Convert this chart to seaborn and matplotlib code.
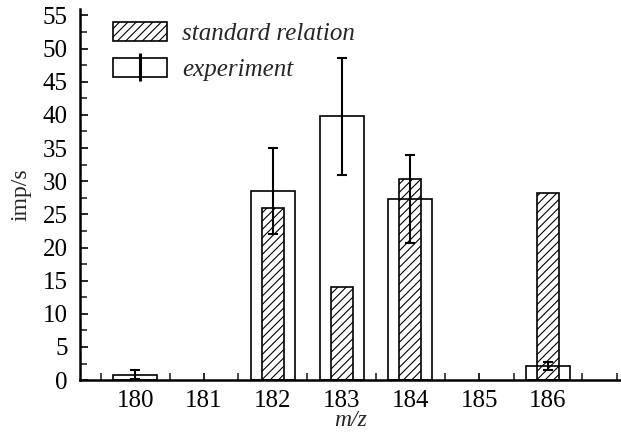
import numpy as np
import pandas as pd
import matplotlib
matplotlib.use("Agg")
import matplotlib.pyplot as plt
import seaborn as sns
from matplotlib.patches import Patch
from matplotlib.lines import Line2D
from matplotlib.legend_handler import HandlerTuple
from matplotlib.ticker import MultipleLocator

# data
mz = [180, 181, 182, 183, 184, 185, 186]
standard = [0, 0, 26.0, 14.0, 30.3, 0, 28.2]
experiment = [0.8, 0, 28.5, 39.8, 27.3, 0, 2.1]
exp_err = [0.7, 0, 6.5, 8.8, 6.6, 0, 0.6]

df = pd.DataFrame({"mz": mz, "standard": standard, "experiment": experiment, "err": exp_err})

sns.set_style("ticks")
plt.rcParams["font.family"] = ["Liberation Serif", "DejaVu Serif"]
plt.rcParams["hatch.linewidth"] = 0.8
plt.rcParams["hatch.color"] = "black"

fig = plt.figure(figsize=(6.21, 4.41), dpi=100)
ax = fig.add_axes([0.129, 0.138, 0.871, 0.842])

# hatched standard bars (zero bars dropped)
std = df[df["standard"] > 0]
sns.barplot(data=std, x="mz", y="standard", native_scale=True, width=0.32,
            color="white", edgecolor="black", linewidth=1.2, hatch="////",
            errorbar=None, ax=ax)

# open experiment bars on top
ex = df[df["experiment"] > 0]
sns.barplot(data=ex, x="mz", y="experiment", native_scale=True, width=0.64,
            color="black", fill=False, linewidth=1.2, errorbar=None, ax=ax)

ax.errorbar(ex["mz"], ex["experiment"], yerr=ex["err"], fmt="none",
            ecolor="black", elinewidth=1.5, capsize=3.8, capthick=1.5, zorder=5)

ax.set_xlim(179.2, 187.06)
ax.set_ylim(0, 56)
ax.set_xticks(mz)
ax.set_xticklabels([str(m) for m in mz])
ax.xaxis.set_minor_locator(MultipleLocator(0.5))
ax.yaxis.set_major_locator(MultipleLocator(5))
ax.yaxis.set_minor_locator(MultipleLocator(2.5))
ax.tick_params(axis="both", which="major", direction="in", length=6, width=1.2,
               labelsize=18, colors="black")
ax.tick_params(axis="both", which="minor", direction="in", length=5, width=1.2)
ax.tick_params(axis="x", which="major", length=5, pad=7)
ax.tick_params(axis="y", which="major", pad=9)
for s in ["top", "right"]:
    ax.spines[s].set_visible(False)
for s in ["left", "bottom"]:
    ax.spines[s].set_linewidth(1.8)
    ax.spines[s].set_color("black")

ax.set_xlabel("m/z", fontsize=17, style="italic", labelpad=-1)
ax.set_ylabel("imp/s", fontsize=17, labelpad=8)

h_std = Patch(facecolor="white", edgecolor="black", hatch="////", linewidth=1.2)
h_box = Patch(facecolor="white", edgecolor="black", linewidth=1.2)
h_bar = Line2D([], [], marker="|", markersize=20, markeredgewidth=2.2, color="black", linestyle="none")
leg = ax.legend([h_std, (h_box, h_bar)], ["standard relation", "experiment"],
                handler_map={tuple: HandlerTuple(ndivide=1)},
                loc="upper left", bbox_to_anchor=(0.0425, 0.992), borderaxespad=0,
                frameon=False, handlelength=2.16, handleheight=0.8, labelspacing=0.5,
                handletextpad=0.6, prop={"size": 18, "style": "italic"})

fig.savefig("out.png", dpi=100)
